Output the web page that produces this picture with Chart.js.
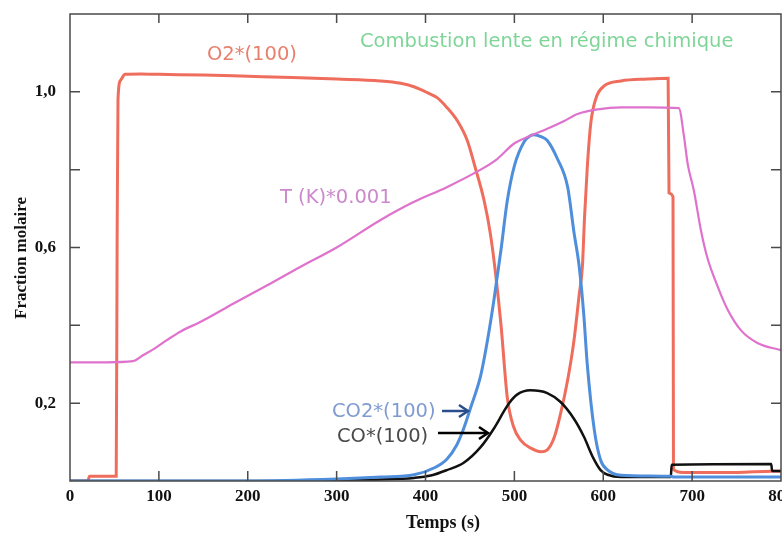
<!DOCTYPE html>
<html>
<head>
<meta charset="utf-8">
<script src="https://cdn.jsdelivr.net/npm/chart.js@4/dist/chart.umd.min.js"></script>
<style>
  html, body { margin: 0; padding: 0; background: #fff; }
  #wrap { width: 782px; height: 533px; }
</style>
</head>
<body>
<div id="wrap"><canvas id="chart" width="782" height="533"></canvas></div>
<script>
// axis ticks
const xTicks = [0, 100, 200, 300, 400, 500, 600, 700, 800];
const yTickMarks = [0.2, 0.4, 0.6, 0.8, 1.0];
const yTickLabels = { '0.2': '0,2', '0.6': '0,6', '1.0': '1,0' };

// O2*(100)
const o2Time = [0, 20, 22, 52, 53, 54, 57, 62, 80, 100, 150, 200, 250, 300, 349, 372, 387, 402, 413, 424, 436, 447, 456, 466, 473, 479, 485, 492, 499, 507, 518, 530, 537, 545, 552, 560, 567, 573, 576.5, 579, 582, 586, 592, 601, 620, 650, 673, 674, 678.5, 679, 690, 750, 790, 800];
const o2Values = [0, 0, 0.012, 0.012, 0.6, 0.98, 1.03, 1.045, 1.046, 1.045, 1.043, 1.04, 1.037, 1.033, 1.028, 1.022, 1.013, 0.998, 0.985, 0.96, 0.925, 0.875, 0.805, 0.72, 0.635, 0.53, 0.40, 0.215, 0.14, 0.105, 0.085, 0.075, 0.08, 0.113, 0.173, 0.26, 0.36, 0.48, 0.55, 0.68, 0.805, 0.92, 0.985, 1.015, 1.028, 1.033, 1.035, 0.74, 0.73, 0.03, 0.022, 0.022, 0.025, 0.025];

// T(K)*0.001
const tempTime = [0, 40, 71, 82, 95, 109, 125, 146, 184, 222, 259, 300, 349, 386, 424, 462, 481, 499, 518, 537, 556, 571, 594, 620, 650, 685, 691, 695, 702, 710, 717, 729, 740, 755, 774, 800];
const tempValues = [0.305, 0.305, 0.308, 0.323, 0.34, 0.362, 0.385, 0.408, 0.456, 0.503, 0.55, 0.60, 0.67, 0.716, 0.755, 0.80, 0.828, 0.866, 0.887, 0.905, 0.925, 0.943, 0.955, 0.96, 0.96, 0.958, 0.883, 0.815, 0.746, 0.643, 0.575, 0.498, 0.44, 0.387, 0.354, 0.336];

// CO2*(100)
const co2Time = [0, 200, 300, 350, 387, 410, 424, 435, 443, 451, 462, 470, 477, 485, 492, 500, 511, 518, 522, 530, 537, 548, 560, 567, 573, 578, 582, 590, 597, 605, 620, 676, 680, 800];
const co2Values = [0, 0, 0.005, 0.01, 0.016, 0.034, 0.056, 0.092, 0.135, 0.19, 0.27, 0.365, 0.465, 0.595, 0.72, 0.81, 0.872, 0.887, 0.89, 0.885, 0.875, 0.83, 0.755, 0.64, 0.55, 0.43, 0.30, 0.13, 0.054, 0.028, 0.015, 0.012, 0.01, 0.01];

// CO*(100)
const coTime = [0, 250, 350, 387, 406, 424, 443, 462, 477, 488, 494, 503, 518, 537, 552, 567, 578, 589, 597, 605, 620, 676, 677, 789, 790, 800];
const coValues = [0, 0, 0.004, 0.008, 0.014, 0.028, 0.047, 0.087, 0.135, 0.178, 0.2, 0.222, 0.233, 0.226, 0.203, 0.16, 0.115, 0.058, 0.028, 0.016, 0.01, 0.01, 0.042, 0.044, 0.026, 0.026];

function pts(t, v) {
    return t.map((x, i) => ({ x: x, y: v[i] }));
}

const serif = "'Liberation Serif', 'Times New Roman', serif";
const sans = "'DejaVu Sans', sans-serif";

function arrow(ctx, x1, x2, y, color) {
    ctx.strokeStyle = color;
    ctx.lineWidth = 2.5;
    ctx.beginPath();
    ctx.moveTo(x1, y);
    ctx.lineTo(x2 - 1, y);
    ctx.stroke();
    ctx.beginPath();
    ctx.moveTo(x2 - 9, y - 6);
    ctx.lineTo(x2, y);
    ctx.lineTo(x2 - 9, y + 6);
    ctx.stroke();
}

const framePlugin = {
    id: 'frame',
    afterDatasetsDraw(chart) {
        const { ctx, chartArea: a, scales: { x, y } } = chart;
        ctx.save();
        ctx.strokeStyle = '#4a4a4a';
        ctx.lineWidth = 1.5;
        ctx.strokeRect(a.left, a.top, a.right - a.left, a.bottom - a.top);
        ctx.beginPath();
        xTicks.forEach(v => {
            if (v <= 0 || v >= 800) return;
            const px = x.getPixelForValue(v);
            ctx.moveTo(px, a.top);
            ctx.lineTo(px, a.top + 9);
            ctx.moveTo(px, a.bottom);
            ctx.lineTo(px, a.bottom - 10);
        });
        yTickMarks.forEach(v => {
            const py = y.getPixelForValue(v);
            ctx.moveTo(a.left, py);
            ctx.lineTo(a.left + 10, py);
            ctx.moveTo(a.right, py);
            ctx.lineTo(a.right - 10, py);
        });
        ctx.stroke();

        // annotations
        ctx.font = '19.5px ' + sans;
        ctx.textBaseline = 'alphabetic';
        ctx.textAlign = 'left';
        ctx.fillStyle = '#e8806e';
        ctx.fillText('O2*(100)', 207, 60);
        ctx.fillStyle = '#7fd598';
        ctx.fillText('Combustion lente en régime chimique', 360, 47);
        ctx.fillStyle = '#cc88cc';
        ctx.fillText('T (K)*0.001', 280, 203);
        ctx.fillStyle = '#7f9bcf';
        ctx.fillText('CO2*(100)', 332, 417);
        ctx.fillStyle = '#4a4a4a';
        ctx.fillText('CO*(100)', 337, 442);
        arrow(ctx, 442, 468, 411, '#2a4e8c');
        arrow(ctx, 438, 488, 433, '#000');

        // axis titles
        ctx.fillStyle = '#111';
        ctx.textAlign = 'center';
        ctx.textBaseline = 'middle';
        ctx.font = 'bold 18px ' + serif;
        ctx.fillText('Temps (s)', 443, 523);
        ctx.translate(22, 258);
        ctx.rotate(-Math.PI / 2);
        ctx.font = 'bold 17px ' + serif;
        ctx.fillText('Fraction molaire', 0, 0);
        ctx.restore();
    }
};

const ctx = document.getElementById('chart').getContext('2d');
new Chart(ctx, {
    type: 'line',
    data: {
        datasets: [
            { label: 'T(K)*0.001', data: pts(tempTime, tempValues), borderColor: '#df72cc', borderWidth: 2.2 },
            { label: 'CO2*(100)', data: pts(co2Time, co2Values), borderColor: '#4f8edb', borderWidth: 3 },
            { label: 'CO*(100)', data: pts(coTime, coValues), borderColor: '#111', borderWidth: 2.5 },
            { label: 'O2*(100)', data: pts(o2Time, o2Values), borderColor: '#ef6d5d', borderWidth: 3 }
        ]
    },
    options: {
        responsive: false,
        animation: false,
        events: [],
        layout: { padding: { top: 14, right: 1, left: 0, bottom: 0 } },
        elements: { point: { radius: 0 }, line: { cubicInterpolationMode: 'monotone' } },
        plugins: { legend: { display: false }, tooltip: { enabled: false } },
        scales: {
            x: {
                type: 'linear',
                min: 0,
                max: 800,
                afterBuildTicks: s => { s.ticks = xTicks.map(v => ({ value: v })); },
                afterFit: s => { s.height = 52; s.paddingLeft = 0; s.paddingRight = 0; },
                grid: { display: false, drawTicks: false },
                border: { display: false },
                ticks: {
                    padding: 5,
                    maxRotation: 0,
                    autoSkip: false,
                    color: '#111',
                    font: { family: serif, size: 17, weight: 'bold' }
                }
            },
            y: {
                min: 0,
                max: 1.2,
                afterBuildTicks: s => { s.ticks = yTickMarks.map(v => ({ value: v })); },
                afterFit: s => { s.width = 70; s.paddingTop = 0; s.paddingBottom = 0; },
                grid: { display: false, drawTicks: false },
                border: { display: false },
                ticks: {
                    padding: 14,
                    autoSkip: false,
                    color: '#111',
                    font: { family: serif, size: 17, weight: 'bold' },
                    callback: v => yTickLabels[v.toFixed(1)] || ''
                }
            }
        }
    },
    plugins: [framePlugin]
});
</script>
</body>
</html>
